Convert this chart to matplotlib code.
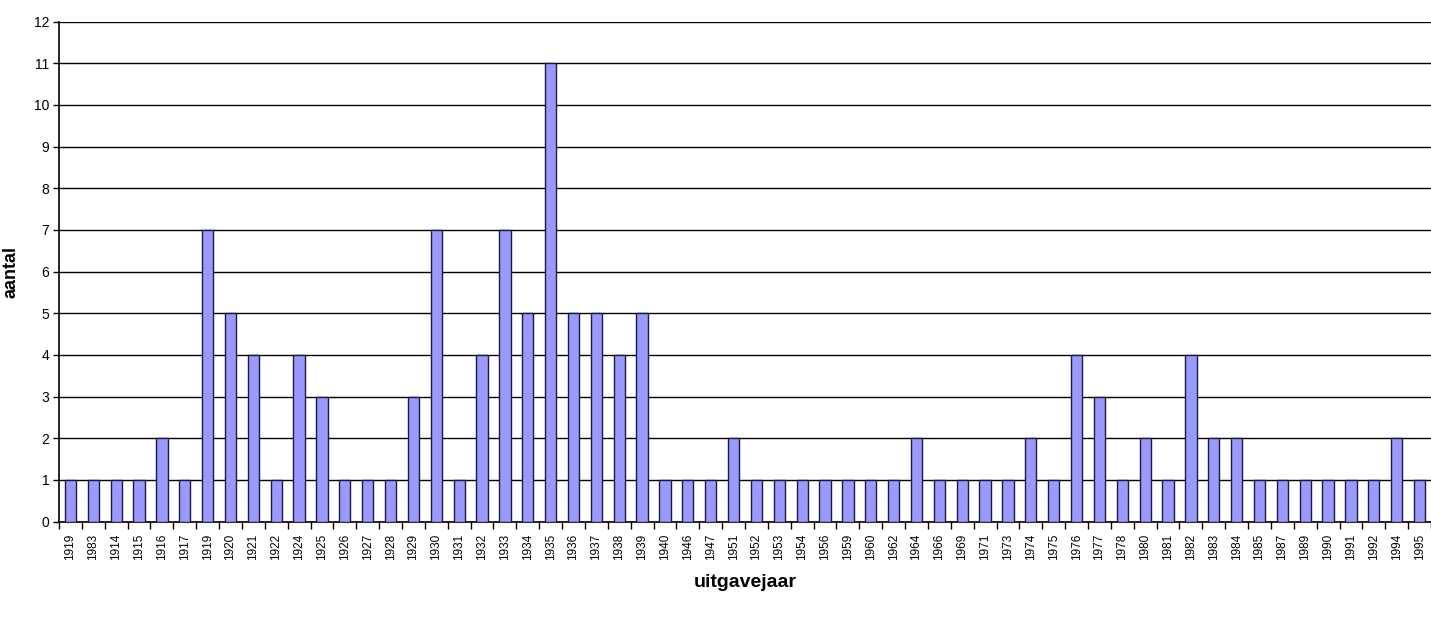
import matplotlib
matplotlib.use('Agg')
import matplotlib.pyplot as plt
import numpy as np

plt.rcParams['font.family'] = ['Liberation Sans', 'DejaVu Sans']

# uitgavejaren zoals ze in de bron staan (incl. dubbele 1919 / 1983)
years = ['1919', '1983', '1914', '1915', '1916', '1917', '1919', '1920', '1921', '1922',
         '1924', '1925', '1926', '1927', '1928', '1929', '1930', '1931', '1932', '1933',
         '1934', '1935', '1936', '1937', '1938', '1939', '1940', '1946', '1947', '1951',
         '1952', '1953', '1954', '1956', '1959', '1960', '1962', '1964', '1966', '1969',
         '1971', '1973', '1974', '1975', '1976', '1977', '1978', '1980', '1981', '1982',
         '1983', '1984', '1985', '1987', '1989', '1990', '1991', '1992', '1994', '1995']
counts = [1, 1, 1, 1, 2, 1, 7, 5, 4, 1,
          4, 3, 1, 1, 1, 3, 7, 1, 4, 7,
          5, 11, 5, 5, 4, 5, 1, 1, 1, 2,
          1, 1, 1, 1, 1, 1, 1, 2, 1, 1,
          1, 1, 2, 1, 4, 3, 1, 2, 1, 4,
          2, 2, 1, 1, 1, 1, 1, 1, 2, 1]

fig = plt.figure(figsize=(14.31, 6.17), dpi=100)
ax = fig.add_axes([59 / 1431, 1 - 521.5 / 617, 1 - 59 / 1431, 500 / 617])

x = np.arange(len(years))
ax.bar(x, counts, width=0.49, color='#9999FF', edgecolor='#1a1a40', linewidth=1.0, zorder=3)

ax.set_xlim(-0.5, len(years) - 0.5)
ax.set_ylim(0, 12)
ax.set_yticks(range(0, 13))
ax.yaxis.grid(True, color='black', linewidth=1.0, zorder=0)
ax.set_axisbelow(True)

ax.set_xticks(x)
ax.set_xticklabels(years, rotation=90, fontsize=8.5)
ax.set_xticks(np.arange(-0.5, len(years), 1), minor=True)
ax.tick_params(axis='x', which='major', length=0, pad=9)
ax.tick_params(axis='x', which='minor', length=5, width=1, direction='out')
ax.tick_params(axis='y', length=4, width=1, direction='out', labelsize=10, pad=3)

for s in ['top', 'right']:
    ax.spines[s].set_visible(False)
for s in ['left', 'bottom']:
    ax.spines[s].set_linewidth(1.2)

ax.set_xlabel('uitgavejaar', fontsize=14, fontweight='bold', labelpad=10)
ax.set_ylabel('aantal', fontsize=13, fontweight='bold', labelpad=10)

fig.savefig('out.png', dpi=100)
